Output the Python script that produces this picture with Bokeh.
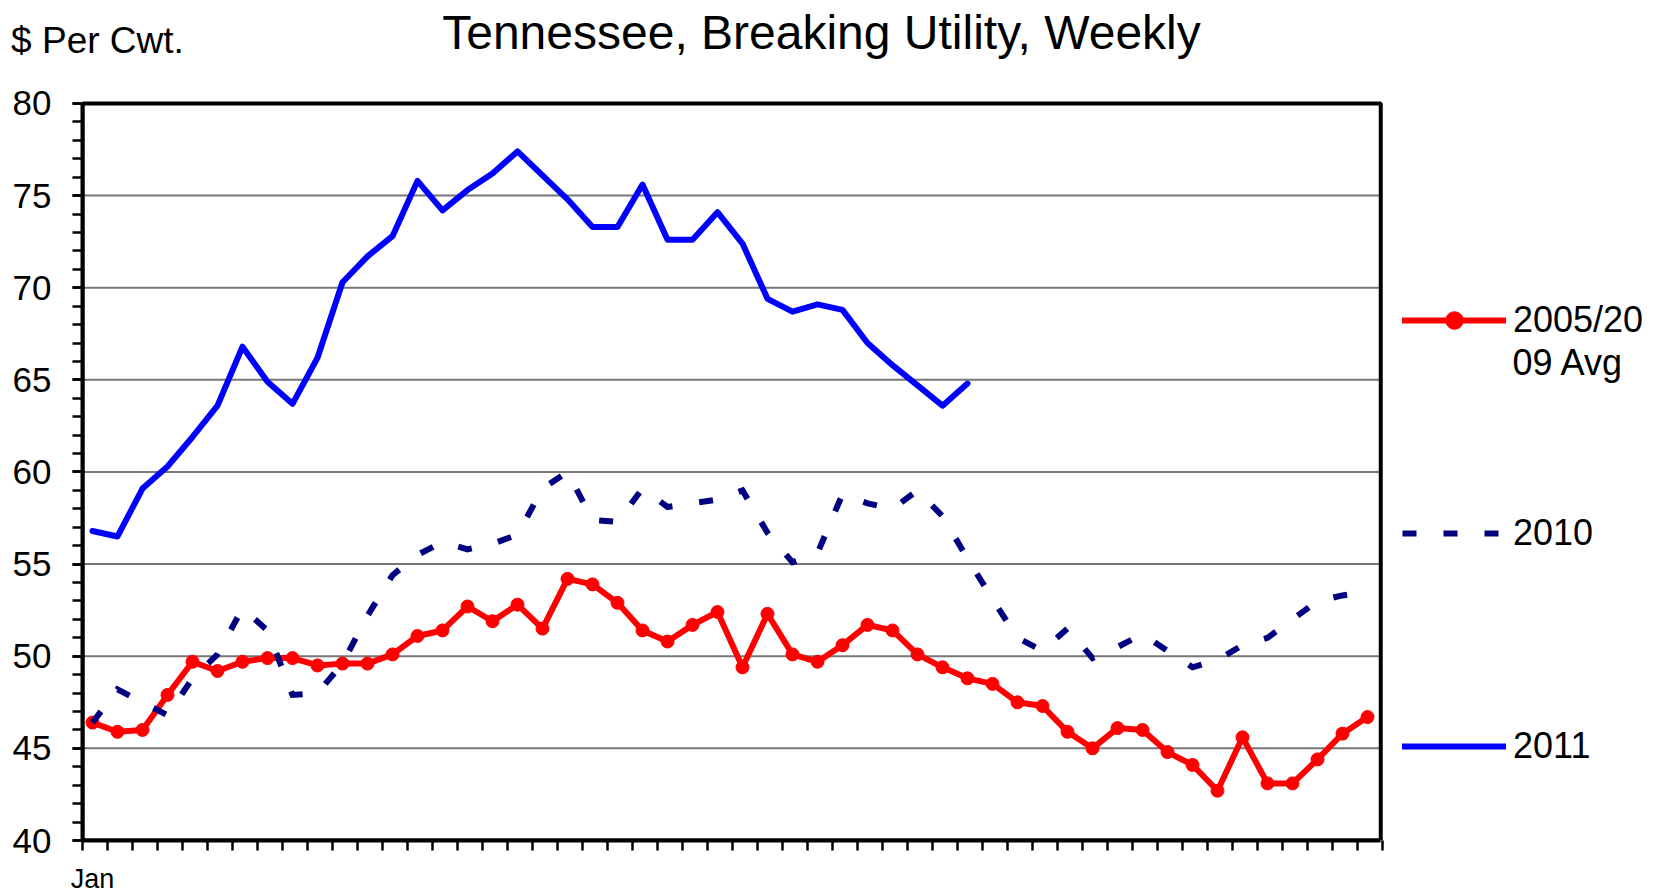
from bokeh.plotting import figure
from bokeh.layouts import column
from bokeh.models import (Plot, Range1d, FixedTicker, SingleIntervalTicker, Legend,
                          LegendItem, Label, BoxAnnotation, CustomJSTickFormatter)
from bokeh.embed import file_html
from bokeh.resources import INLINE

# ---------------- data ----------------
weeks = list(range(1, 53))

avg_2005_2009 = [46.4, 45.9, 46.0, 47.9, 49.7, 49.2, 49.7, 49.9, 49.9, 49.5,
                 49.6, 49.6, 50.1, 51.1, 51.4, 52.7, 51.9, 52.8, 51.5, 54.2,
                 53.9, 52.9, 51.4, 50.8, 51.7, 52.4, 49.4, 52.3, 50.1, 49.7,
                 50.6, 51.7, 51.4, 50.1, 49.4, 48.8, 48.5, 47.5, 47.3, 45.9,
                 45.0, 46.1, 46.0, 44.8, 44.1, 42.7, 45.6, 43.1, 43.1, 44.4,
                 45.8, 46.7]

y2010 = [46.4, 48.2, 47.5, 46.8, 48.8, 50.1, 52.6, 51.4, 47.9, 48.0,
         49.6, 52.2, 54.4, 55.5, 56.2, 55.8, 56.1, 56.6, 59.1, 60.0,
         57.4, 57.3, 59.1, 58.1, 58.3, 58.5, 59.0, 56.7, 55.1, 55.6,
         58.8, 58.3, 58.0, 59.0, 57.6, 55.3, 53.1, 51.0, 50.3, 51.5,
         49.9, 50.5, 51.2, 50.3, 49.4, 49.8, 50.6, 51.0, 52.0, 53.0,
         53.3, 53.5]

y2011 = [56.8, 56.5, 59.1, 60.3, 61.9, 63.6, 66.8, 64.9, 63.7, 66.2,
         70.3, 71.7, 72.8, 75.8, 74.2, 75.3, 76.2, 77.4, 76.1, 74.8,
         73.3, 73.3, 75.6, 72.6, 72.6, 74.1, 72.4, 69.4, 68.7, 69.1,
         68.8, 67.0, 65.8, 64.7, 63.6, 64.8]

series_labels = ["2005/20", "2010", "2011"]
series_label_cont = "09 Avg"
month_labels = ["Jan"]
month_ticks = [1]
grid_levels = [45, 50, 55, 60, 65, 70, 75]
title_text = "Tennessee, Breaking Utility, Weekly"
unit_text = "$ Per Cwt."

FONT = "Liberation Sans"
Y_LO, Y_HI = 40, 80
X_LO, X_HI = 0.6, 52.53      # plot box edges (week boundaries)

# ---------------- header strip (title + unit) ----------------
top = figure(width=1663, height=72, frame_width=1663, frame_height=72,
             output_backend="svg", toolbar_location=None,
             x_axis_location=None, y_axis_location=None, title=None,
             x_range=Range1d(0, 1663), y_range=Range1d(0, 72),
             min_border=0, outline_line_color=None)
if "frame_align" in Plot.properties():
    top.frame_align = False
top.grid.visible = False
top.add_layout(Label(x=821, y=40.2, x_units="screen", y_units="screen",
                     text=title_text, text_font=FONT, text_font_size="48px",
                     text_align="center", text_baseline="alphabetic",
                     text_color="black"))
top.add_layout(Label(x=10.6, y=31.6, x_units="screen", y_units="screen",
                     text=unit_text, text_font=FONT, text_font_size="37px",
                     text_align="left", text_baseline="alphabetic",
                     text_color="black"))

# ---------------- main chart ----------------
p = figure(width=1663, height=824, output_backend="svg", toolbar_location=None,
           title=None,
           x_range=Range1d(X_LO, X_LO + 1581 / 25.0),
           y_range=Range1d(Y_LO, Y_HI + 3 / 18.475),
           min_border_left=82, min_border_right=0, min_border_top=28,
           min_border_bottom=54, outline_line_color=None,
           background_fill_color="white", border_fill_color="white")

# x axis: week-boundary ticks, month label
p.xaxis.bounds = (X_LO, X_HI)
p.xaxis.ticker = FixedTicker(ticks=month_ticks,
                             minor_ticks=[X_LO + i for i in range(53)])
p.xaxis.formatter = CustomJSTickFormatter(args=dict(labels=month_labels),
                                          code="return labels[index] ?? ''")
p.xaxis.axis_line_width = 4
p.xaxis.axis_line_color = "black"
p.xaxis.major_tick_out = 10
p.xaxis.major_tick_in = 0
p.xaxis.major_tick_line_color = None
p.xaxis.minor_tick_out = 10
p.xaxis.minor_tick_in = 0
p.xaxis.minor_tick_line_width = 2.5
p.xaxis.minor_tick_line_color = "black"
p.xaxis.major_label_text_font = FONT
p.xaxis.major_label_text_font_size = "27px"
p.xaxis.major_label_text_color = "black"
p.xaxis.major_label_standoff = 13
p.xgrid.visible = False

# y axis
p.yaxis.bounds = (Y_LO, Y_HI)
p.yaxis.ticker = SingleIntervalTicker(interval=5, num_minor_ticks=5)
p.yaxis.axis_line_width = 4
p.yaxis.axis_line_color = "black"
p.yaxis.major_tick_out = 10
p.yaxis.major_tick_in = 0
p.yaxis.minor_tick_out = 10
p.yaxis.minor_tick_in = 0
p.yaxis.major_tick_line_width = 2.5
p.yaxis.minor_tick_line_width = 2.5
p.yaxis.major_tick_line_color = "black"
p.yaxis.minor_tick_line_color = "black"
p.yaxis.major_label_text_font = FONT
p.yaxis.major_label_text_font_size = "35px"
p.yaxis.major_label_text_color = "black"
p.yaxis.major_label_standoff = 21
p.ygrid.visible = False

# horizontal gridlines inside the plot box
p.segment(x0=[X_LO] * len(grid_levels), x1=[X_HI] * len(grid_levels),
          y0=grid_levels, y1=grid_levels, line_color="#777777", line_width=2)

# ---------------- series ----------------
r_avg_line = p.line(weeks, avg_2005_2009, line_color="#FF0000", line_width=6,
                    line_join="round", line_cap="round")
r_avg_pts = p.scatter(weeks, avg_2005_2009, marker="circle", size=13,
                      fill_color="#FF0000", line_color="#FF0000")
r_2010 = p.line(weeks, y2010, line_color="#000080", line_width=6,
                line_dash="14 27", line_join="miter")
r_2011 = p.line(weeks[:len(y2011)], y2011, line_color="#0000FF", line_width=6,
                line_join="round", line_cap="round")

# plot box border
p.add_layout(BoxAnnotation(left=X_LO, right=X_HI, bottom=Y_LO, top=Y_HI,
                           fill_color=None, fill_alpha=0,
                           line_color="black", line_alpha=1.0, line_width=4))

# ---------------- legend ----------------
legend = Legend(items=[LegendItem(label=series_labels[0], renderers=[r_avg_line, r_avg_pts]),
                       LegendItem(label=series_labels[1], renderers=[r_2010]),
                       LegendItem(label=series_labels[2], renderers=[r_2011])],
                location=(1320, 72.2), orientation="vertical",
                glyph_width=104, glyph_height=44, label_height=44,
                label_standoff=7, spacing=169, padding=0, margin=0,
                border_line_color=None, background_fill_alpha=0,
                label_text_font=FONT, label_text_font_size="36px",
                label_text_color="black")
p.add_layout(legend)
p.add_layout(Label(x=1430, y=478, x_units="screen", y_units="screen",
                   text=series_label_cont, text_font=FONT, text_font_size="36px",
                   text_align="left", text_baseline="alphabetic",
                   text_color="black"))

layout = column(top, p, spacing=0)
open("out.html", "w").write(file_html(layout, INLINE))
